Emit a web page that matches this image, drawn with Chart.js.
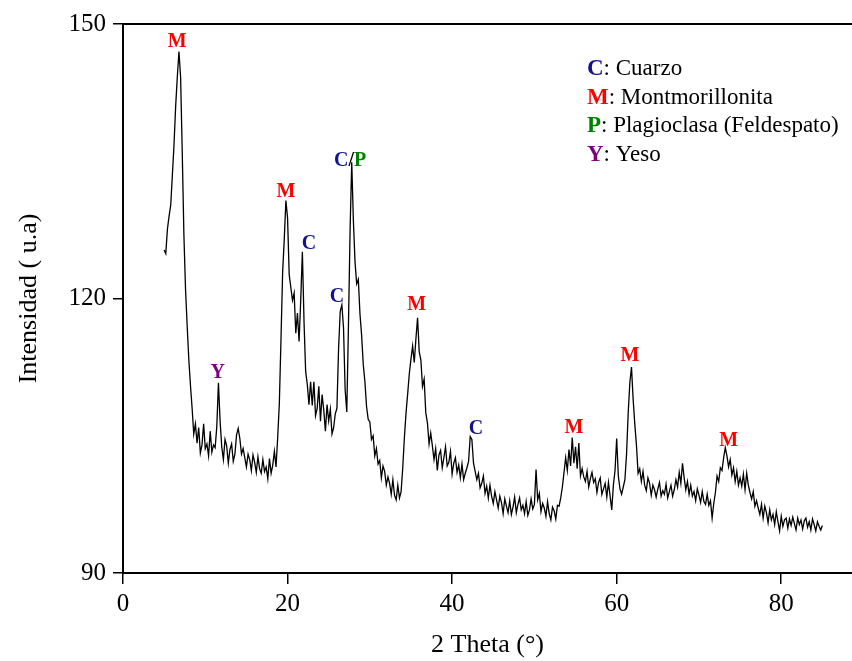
<!DOCTYPE html>
<html>
<head>
<meta charset="utf-8">
<title>DRX</title>
<script src="https://cdn.jsdelivr.net/npm/chart.js@4/dist/chart.umd.min.js"></script>
<style>
  html, body { margin: 0; padding: 0; background: #fff; }
  #wrap { width: 852px; height: 661px; }
</style>
</head>
<body>
<div id="wrap"><canvas id="xrdChart" width="852" height="661"></canvas></div>
<script>
// 2 theta (deg), 0.2 step
const twoTheta = [
  5,5.2,5.4,5.6,5.8,6,6.2,6.4,6.6,6.8,
  7,7.2,7.4,7.6,7.8,8,8.2,8.4,8.6,8.8,
  9,9.2,9.4,9.6,9.8,10,10.2,10.4,10.6,10.8,
  11,11.2,11.4,11.6,11.8,12,12.2,12.4,12.6,12.8,
  13,13.2,13.4,13.6,13.8,14,14.2,14.4,14.6,14.8,
  15,15.2,15.4,15.6,15.8,16,16.2,16.4,16.6,16.8,
  17,17.2,17.4,17.6,17.8,18,18.2,18.4,18.6,18.8,
  19,19.2,19.4,19.6,19.8,20,20.2,20.4,20.6,20.8,
  21,21.2,21.4,21.6,21.8,22,22.2,22.4,22.6,22.8,
  23,23.2,23.4,23.6,23.8,24,24.2,24.4,24.6,24.8,
  25,25.2,25.4,25.6,25.8,26,26.2,26.4,26.6,26.8,
  27,27.2,27.4,27.6,27.8,28,28.2,28.4,28.6,28.8,
  29,29.2,29.4,29.6,29.8,30,30.2,30.4,30.6,30.8,
  31,31.2,31.4,31.6,31.8,32,32.2,32.4,32.6,32.8,
  33,33.2,33.4,33.6,33.8,34,34.2,34.4,34.6,34.8,
  35,35.2,35.4,35.6,35.8,36,36.2,36.4,36.6,36.8,
  37,37.2,37.4,37.6,37.8,38,38.2,38.4,38.6,38.8,
  39,39.2,39.4,39.6,39.8,40,40.2,40.4,40.6,40.8,
  41,41.2,41.4,41.6,41.8,42,42.2,42.4,42.6,42.8,
  43,43.2,43.4,43.6,43.8,44,44.2,44.4,44.6,44.8,
  45,45.2,45.4,45.6,45.8,46,46.2,46.4,46.6,46.8,
  47,47.2,47.4,47.6,47.8,48,48.2,48.4,48.6,48.8,
  49,49.2,49.4,49.6,49.8,50,50.2,50.4,50.6,50.8,
  51,51.2,51.4,51.6,51.8,52,52.2,52.4,52.6,52.8,
  53,53.2,53.4,53.6,53.8,54,54.2,54.4,54.6,54.8,
  55,55.2,55.4,55.6,55.8,56,56.2,56.4,56.6,56.8,
  57,57.2,57.4,57.6,57.8,58,58.2,58.4,58.6,58.8,
  59,59.2,59.4,59.6,59.8,60,60.2,60.4,60.6,60.8,
  61,61.2,61.4,61.6,61.8,62,62.2,62.4,62.6,62.8,
  63,63.2,63.4,63.6,63.8,64,64.2,64.4,64.6,64.8,
  65,65.2,65.4,65.6,65.8,66,66.2,66.4,66.6,66.8,
  67,67.2,67.4,67.6,67.8,68,68.2,68.4,68.6,68.8,
  69,69.2,69.4,69.6,69.8,70,70.2,70.4,70.6,70.8,
  71,71.2,71.4,71.6,71.8,72,72.2,72.4,72.6,72.8,
  73,73.2,73.4,73.6,73.8,74,74.2,74.4,74.6,74.8,
  75,75.2,75.4,75.6,75.8,76,76.2,76.4,76.6,76.8,
  77,77.2,77.4,77.6,77.8,78,78.2,78.4,78.6,78.8,
  79,79.2,79.4,79.6,79.8,80,80.2,80.4,80.6,80.8,
  81,81.2,81.4,81.6,81.8,82,82.2,82.4,82.6,82.8,
  83,83.2,83.4,83.6,83.8,84,84.2,84.4,84.6,84.8,
  85
];

// intensity (u.a)
const intensity = [
  125.3,124.9,127.6,129.0,130.2,133.5,136.8,141.0,144.2,147.0,
  144.2,136.0,127.0,121.0,117.0,113.3,110.5,108.0,105.2,106.3,
  104.2,105.9,103.1,104.0,106.3,103.6,104.1,102.8,105.5,103.2,
  104.0,103.7,106.0,110.8,106.6,103.8,102.4,104.6,103.9,102.0,
  103.5,104.1,102.2,103.0,105.1,105.8,104.7,103.0,103.6,102.6,
  101.6,103.0,102.4,101.2,102.9,102.1,101.0,102.7,101.4,100.9,
  102.4,101.1,101.6,100.3,102.5,100.9,101.8,103.3,101.6,104.8,
  108.5,115.5,122.8,126.5,130.7,128.8,122.6,121.2,119.8,120.6,
  116.2,118.4,115.3,119.8,125.1,117.5,112.0,110.6,108.4,110.9,
  108.3,110.9,107.2,108.0,110.4,106.6,109.5,107.8,105.5,108.4,
  106.6,107.9,105.2,105.9,107.4,108.0,114.5,118.6,119.3,116.8,
  110.0,107.6,117.0,127.5,134.9,128.5,124.0,121.6,122.1,118.3,
  116.0,112.8,110.9,108.2,106.8,106.5,104.6,105.0,102.8,103.6,
  101.9,102.3,100.4,101.7,101.1,99.6,100.5,99.8,98.6,100.2,
  98.5,98.0,99.6,98.2,98.9,101.5,104.8,107.5,109.6,111.8,
  113.4,114.8,113.0,115.6,117.9,114.2,113.3,110.4,111.2,107.5,
  106.4,104.1,105.3,103.9,102.4,103.6,101.2,102.9,103.4,101.5,
  102.6,103.8,101.7,102.1,103.3,100.8,102.0,102.6,101.0,101.8,
  100.4,101.9,100.2,100.9,101.5,102.2,104.9,104.6,102.0,101.1,
  100.2,100.9,99.3,99.8,100.6,98.7,99.5,98.2,99.6,98.4,
  97.6,98.9,98.0,97.1,98.4,97.7,96.5,98.1,97.3,96.6,
  97.9,96.4,97.2,98.3,96.6,97.5,98.2,96.9,97.4,96.5,
  97.8,96.3,96.9,98.1,97.0,97.5,101.3,98.0,98.7,96.7,
  97.6,97.1,96.2,97.8,96.5,95.8,97.2,96.8,95.9,97.4,
  97.3,98.2,99.4,101.0,102.6,101.2,103.5,101.7,104.8,102.0,
  103.8,101.4,104.2,100.6,101.4,100.5,100.0,101.1,99.4,100.3,
  101.0,99.9,100.3,98.8,99.9,100.4,98.6,99.2,99.8,98.3,
  99.9,98.4,96.9,99.6,101.2,104.7,100.6,99.2,98.6,99.4,
  100.2,103.0,107.5,110.8,112.5,109.0,106.3,104.0,100.9,101.4,
  100.0,101.1,99.6,99.0,100.4,99.8,98.5,99.6,99.1,98.3,
  99.2,99.9,98.4,99.0,98.6,99.7,98.2,98.9,99.6,98.4,
  99.1,100.2,99.4,101.0,99.8,102.0,100.4,99.1,100.0,98.6,
  99.6,98.4,98.9,97.9,99.2,98.5,97.7,98.9,97.8,97.5,
  98.6,97.4,97.9,96.0,97.6,98.8,100.6,100.0,101.5,101.2,
  102.6,103.7,102.8,101.6,102.4,100.7,101.5,100.0,101.1,99.6,
  100.4,99.5,100.8,99.1,100.9,99.6,98.8,98.1,98.9,97.3,
  97.9,97.1,96.4,97.5,96.0,97.3,96.6,95.5,96.9,95.8,
  96.4,95.3,96.7,95.6,94.6,96.2,95.1,95.8,96.0,94.9,
  95.9,95.2,96.1,95.4,94.7,96.0,95.3,95.8,94.8,95.7,
  96.0,95.0,95.6,94.7,95.9,95.3,94.6,95.6,95.1,94.7,
  95.2
];

const xTicks = [0, 20, 40, 60, 80];
const yTicks = [90, 120, 150];

// phase tags above the peaks (x = 2 theta, y = text baseline in u.a)
const peakTags = ["M", "Y", "M", "C", "C", "C/P", "M", "C", "M", "M", "M"];
const peakX = [6.6, 11.5, 19.8, 22.6, 26.0, 27.6, 35.7, 42.9, 54.8, 61.6, 73.6];
const peakY = [147.5, 111.3, 131.1, 125.4, 119.6, 134.5, 118.7, 105.2, 105.3, 113.2, 103.9];

const legendKeys = ["C", "M", "P", "Y"];
const legendNames = [": Cuarzo", ": Montmorillonita", ": Plagioclasa (Feldespato)", ": Yeso"];
const phaseColors = { C: "#12128c", M: "#ff0000", P: "#008000", Y: "#800080" };

const serif = '"Liberation Serif", "Times New Roman", serif';

// letras de fase sobre los picos
const peakLabels = {
  id: "peakLabels",
  afterDatasetsDraw(chart) {
    const { ctx, scales: { x, y } } = chart;
    ctx.save();
    ctx.font = "bold 20px " + serif;
    ctx.textBaseline = "alphabetic";
    ctx.textAlign = "left";
    peakTags.forEach((tag, i) => {
      const chars = tag.split("");
      const total = chars.reduce((w, ch) => w + ctx.measureText(ch).width, 0);
      let px = x.getPixelForValue(peakX[i]) - total / 2;
      const py = y.getPixelForValue(peakY[i]);
      chars.forEach((ch) => {
        ctx.fillStyle = phaseColors[ch] || "#000";
        ctx.fillText(ch, px, py);
        px += ctx.measureText(ch).width;
      });
    });
    ctx.restore();
  },
};

// leyenda de fases (arriba a la derecha)
const phaseLegend = {
  id: "phaseLegend",
  afterDraw(chart) {
    const { ctx } = chart;
    ctx.save();
    ctx.textBaseline = "alphabetic";
    ctx.textAlign = "left";
    legendKeys.forEach((key, i) => {
      const baseY = 75 + i * 28.5;
      ctx.font = "bold 23px " + serif;
      ctx.fillStyle = phaseColors[key];
      ctx.fillText(key, 587, baseY);
      const w = ctx.measureText(key).width;
      ctx.font = "23px " + serif;
      ctx.fillStyle = "#000";
      ctx.fillText(legendNames[i], 587 + w, baseY);
    });
    ctx.restore();
  },
};

const ctx = document.getElementById("xrdChart").getContext("2d");

new Chart(ctx, {
  type: "line",
  data: {
    datasets: [
      {
        data: twoTheta.map((t, i) => ({ x: t, y: intensity[i] })),
        borderColor: "#000",
        borderWidth: 1.3,
        pointRadius: 0,
        fill: false,
        tension: 0,
      },
    ],
  },
  options: {
    responsive: false,
    animation: false,
    layout: { padding: 0 },
    plugins: {
      legend: { display: false },
      tooltip: { enabled: false },
    },
    scales: {
      x: {
        type: "linear",
        position: "bottom",
        min: 0,
        max: 88.6,
        afterBuildTicks: (scale) => {
          scale.ticks = xTicks.map((v) => ({ value: v }));
        },
        afterFit: (scale) => {
          scale.height = 88;
        },
        grid: {
          display: true,
          drawOnChartArea: false,
          drawTicks: true,
          tickLength: 11,
          color: "#000",
          lineWidth: 1.5,
        },
        border: { display: true, color: "#000", width: 2 },
        ticks: {
          color: "#000",
          font: { family: serif, size: 25 },
          padding: 5,
          maxRotation: 0,
        },
        title: {
          display: true,
          text: "2 Theta (°)",
          color: "#000",
          font: { family: serif, size: 26 },
          padding: { top: 0, bottom: 0 },
        },
      },
      xTop: {
        type: "linear",
        position: "top",
        min: 0,
        max: 88.6,
        afterFit: (scale) => {
          scale.height = 24;
        },
        grid: { display: false, drawTicks: false },
        border: { display: true, color: "#000", width: 2 },
        ticks: { display: false },
      },
      y: {
        type: "linear",
        min: 90,
        max: 150,
        afterBuildTicks: (scale) => {
          scale.ticks = yTicks.map((v) => ({ value: v }));
        },
        afterFit: (scale) => {
          scale.width = 123;
        },
        grid: {
          display: true,
          drawOnChartArea: false,
          drawTicks: true,
          tickLength: 10,
          color: "#000",
          lineWidth: 1.5,
        },
        border: { display: true, color: "#000", width: 2 },
        ticks: {
          color: "#000",
          font: { family: serif, size: 25 },
          padding: 7,
        },
        title: {
          display: true,
          text: "Intensidad ( u.a)",
          color: "#000",
          font: { family: serif, size: 26 },
          padding: { top: 14, bottom: 0 },
        },
      },
    },
  },
  plugins: [peakLabels, phaseLegend],
});
</script>
</body>
</html>
